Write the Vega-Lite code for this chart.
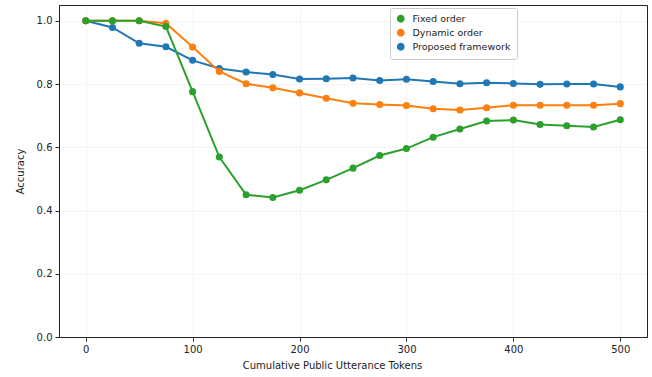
{
  "$schema": "https://vega.github.io/schema/vega-lite/v6.json",
  "width": 588,
  "height": 332,
  "autosize": {"type": "none"},
  "padding": {"left": 59, "top": 5, "right": 5, "bottom": 40},
  "background": "white",
  "config": {
    "font": "DejaVu Sans",
    "view": {"stroke": "#222", "strokeWidth": 1},
    "axis": {
      "domain": true,
      "domainColor": "#222",
      "domainWidth": 1,
      "tickColor": "#222",
      "tickSize": 4,
      "labelFontSize": 10,
      "labelColor": "#222",
      "titleFontSize": 10,
      "titleFontWeight": "normal",
      "titleColor": "#222",
      "gridColor": "#dddddd",
      "gridDash": [2, 2],
      "gridWidth": 0.6,
      "labelPadding": 3
    },
    "legend": {
      "orient": "none",
      "legendX": 331,
      "legendY": 3,
      "fillColor": "white",
      "strokeColor": "#cccccc",
      "padding": 6,
      "cornerRadius": 2,
      "labelFontSize": 9.5,
      "labelColor": "#222",
      "symbolSize": 40,
      "symbolType": "circle",
      "rowPadding": 1,
      "labelOffset": 7
    }
  },
  "data": {
    "values": [
      {"tokens": 0, "series": "Fixed order", "acc": 1.0},
      {"tokens": 25, "series": "Fixed order", "acc": 1.0},
      {"tokens": 50, "series": "Fixed order", "acc": 1.0},
      {"tokens": 75, "series": "Fixed order", "acc": 0.982},
      {"tokens": 100, "series": "Fixed order", "acc": 0.776},
      {"tokens": 125, "series": "Fixed order", "acc": 0.569},
      {"tokens": 150, "series": "Fixed order", "acc": 0.450},
      {"tokens": 175, "series": "Fixed order", "acc": 0.441},
      {"tokens": 200, "series": "Fixed order", "acc": 0.464},
      {"tokens": 225, "series": "Fixed order", "acc": 0.497},
      {"tokens": 250, "series": "Fixed order", "acc": 0.534},
      {"tokens": 275, "series": "Fixed order", "acc": 0.574},
      {"tokens": 300, "series": "Fixed order", "acc": 0.596},
      {"tokens": 325, "series": "Fixed order", "acc": 0.632},
      {"tokens": 350, "series": "Fixed order", "acc": 0.658},
      {"tokens": 375, "series": "Fixed order", "acc": 0.683},
      {"tokens": 400, "series": "Fixed order", "acc": 0.686},
      {"tokens": 425, "series": "Fixed order", "acc": 0.672},
      {"tokens": 450, "series": "Fixed order", "acc": 0.668},
      {"tokens": 475, "series": "Fixed order", "acc": 0.664},
      {"tokens": 500, "series": "Fixed order", "acc": 0.687},
      {"tokens": 0, "series": "Dynamic order", "acc": 1.0},
      {"tokens": 25, "series": "Dynamic order", "acc": 1.0},
      {"tokens": 50, "series": "Dynamic order", "acc": 1.0},
      {"tokens": 75, "series": "Dynamic order", "acc": 0.992},
      {"tokens": 100, "series": "Dynamic order", "acc": 0.917},
      {"tokens": 125, "series": "Dynamic order", "acc": 0.840},
      {"tokens": 150, "series": "Dynamic order", "acc": 0.801},
      {"tokens": 175, "series": "Dynamic order", "acc": 0.788},
      {"tokens": 200, "series": "Dynamic order", "acc": 0.772},
      {"tokens": 225, "series": "Dynamic order", "acc": 0.755},
      {"tokens": 250, "series": "Dynamic order", "acc": 0.739},
      {"tokens": 275, "series": "Dynamic order", "acc": 0.735},
      {"tokens": 300, "series": "Dynamic order", "acc": 0.732},
      {"tokens": 325, "series": "Dynamic order", "acc": 0.722},
      {"tokens": 350, "series": "Dynamic order", "acc": 0.718},
      {"tokens": 375, "series": "Dynamic order", "acc": 0.725},
      {"tokens": 400, "series": "Dynamic order", "acc": 0.733},
      {"tokens": 425, "series": "Dynamic order", "acc": 0.733},
      {"tokens": 450, "series": "Dynamic order", "acc": 0.733},
      {"tokens": 475, "series": "Dynamic order", "acc": 0.733},
      {"tokens": 500, "series": "Dynamic order", "acc": 0.738},
      {"tokens": 0, "series": "Proposed framework", "acc": 1.0},
      {"tokens": 25, "series": "Proposed framework", "acc": 0.979},
      {"tokens": 50, "series": "Proposed framework", "acc": 0.929},
      {"tokens": 75, "series": "Proposed framework", "acc": 0.918},
      {"tokens": 100, "series": "Proposed framework", "acc": 0.875},
      {"tokens": 125, "series": "Proposed framework", "acc": 0.849},
      {"tokens": 150, "series": "Proposed framework", "acc": 0.838},
      {"tokens": 175, "series": "Proposed framework", "acc": 0.830},
      {"tokens": 200, "series": "Proposed framework", "acc": 0.816},
      {"tokens": 225, "series": "Proposed framework", "acc": 0.817},
      {"tokens": 250, "series": "Proposed framework", "acc": 0.819},
      {"tokens": 275, "series": "Proposed framework", "acc": 0.811},
      {"tokens": 300, "series": "Proposed framework", "acc": 0.815},
      {"tokens": 325, "series": "Proposed framework", "acc": 0.808},
      {"tokens": 350, "series": "Proposed framework", "acc": 0.801},
      {"tokens": 375, "series": "Proposed framework", "acc": 0.804},
      {"tokens": 400, "series": "Proposed framework", "acc": 0.802},
      {"tokens": 425, "series": "Proposed framework", "acc": 0.799},
      {"tokens": 450, "series": "Proposed framework", "acc": 0.800},
      {"tokens": 475, "series": "Proposed framework", "acc": 0.800},
      {"tokens": 500, "series": "Proposed framework", "acc": 0.791}
    ]
  },
  "encoding": {
    "x": {
      "field": "tokens",
      "type": "quantitative",
      "scale": {"domain": [-25, 525], "nice": false, "zero": false},
      "axis": {"values": [0, 100, 200, 300, 400, 500], "title": "Cumulative Public Utterance Tokens", "titleX": 273, "titleAlign": "center", "titlePadding": 6}
    },
    "y": {
      "field": "acc",
      "type": "quantitative",
      "scale": {"domain": [0, 1.05], "nice": false},
      "axis": {"values": [0, 0.2, 0.4, 0.6, 0.8, 1.0], "format": ".1f", "title": "Accuracy", "titlePadding": 11}
    },
    "color": {
      "field": "series",
      "type": "nominal",
      "title": null,
      "scale": {
        "domain": ["Fixed order", "Dynamic order", "Proposed framework"],
        "range": ["#2ca02c", "#ff7f0e", "#1f77b4"]
      }
    }
  },
  "layer": [
    {
      "transform": [{"filter": "datum.series === 'Proposed framework'"}],
      "mark": {"type": "line", "strokeWidth": 2, "point": {"filled": true, "size": 50, "opacity": 1}}
    },
    {
      "transform": [{"filter": "datum.series === 'Dynamic order'"}],
      "mark": {"type": "line", "strokeWidth": 2, "point": {"filled": true, "size": 50, "opacity": 1}}
    },
    {
      "transform": [{"filter": "datum.series === 'Fixed order'"}],
      "mark": {"type": "line", "strokeWidth": 2, "point": {"filled": true, "size": 50, "opacity": 1}}
    }
  ]
}
